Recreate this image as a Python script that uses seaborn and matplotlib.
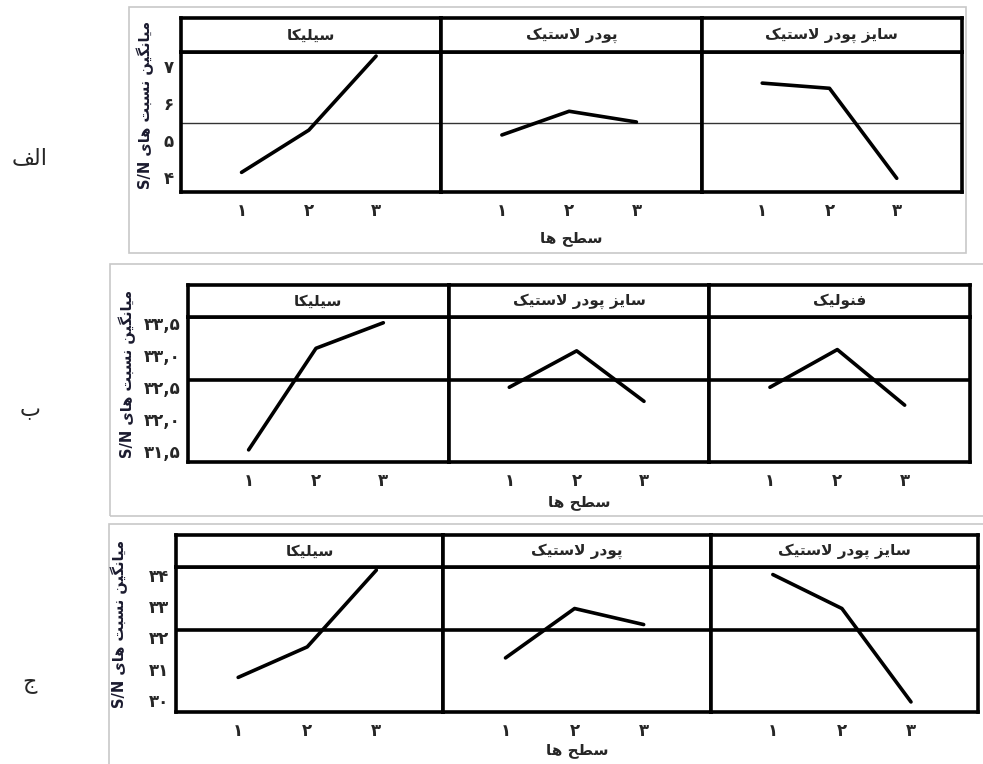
import re
import matplotlib
matplotlib.use("Agg")
import matplotlib.pyplot as plt
import pandas as pd
import seaborn as sns
from matplotlib.patches import Rectangle

# Data
levels = [1, 2, 3]
level_labels = ["۱", "۲", "۳"]

factors_a = ["سیلیکا", "پودر لاستیک", "سایز پودر لاستیک"]
sn_a = [[4.13, 5.27, 7.27], [5.14, 5.78, 5.49], [6.54, 6.40, 3.97]]
mean_a = 5.45
yticks_a = [4, 5, 6, 7]
yticklabels_a = ["۴", "۵", "۶", "۷"]

factors_b = ["سیلیکا", "سایز پودر لاستیک", "فنولیک"]
sn_b = [[31.52, 33.11, 33.51], [32.50, 33.07, 32.28], [32.50, 33.09, 32.22]]
mean_b = 32.62
yticks_b = [31.5, 32.0, 32.5, 33.0, 33.5]
yticklabels_b = ["۳۱,۵", "۳۲,۰", "۳۲,۵", "۳۳,۰", "۳۳,۵"]

factors_c = ["سیلیکا", "پودر لاستیک", "سایز پودر لاستیک"]
sn_c = [[30.73, 31.70, 34.14], [31.35, 32.92, 32.41], [34.00, 32.92, 29.95]]
mean_c = 32.23
yticks_c = [30, 31, 32, 33, 34]
yticklabels_c = ["۳۰", "۳۱", "۳۲", "۳۳", "۳۴"]

panel_letters = ["الف", "ب", "ج"]
ylabel = "میانگین نسبت های S/N"
xlabel = "سطح ها"

# --- minimal arabic/persian shaping (matplotlib has no text shaping) ---
# (isolated, final, initial, medial)
FORMS = {
    "ا": ("\uFE8D", "\uFE8E", None, None),
    "د": ("\uFEA9", "\uFEAA", None, None),
    "ر": ("\uFEAD", "\uFEAE", None, None),
    "ز": ("\uFEAF", "\uFEB0", None, None),
    "و": ("\uFEED", "\uFEEE", None, None),
    "ب": ("\uFE8F", "\uFE90", "\uFE91", "\uFE92"),
    "ت": ("\uFE95", "\uFE96", "\uFE97", "\uFE98"),
    "ج": ("\uFE9D", "\uFE9E", "\uFE9F", "\uFEA0"),
    "ح": ("\uFEA1", "\uFEA2", "\uFEA3", "\uFEA4"),
    "س": ("\uFEB1", "\uFEB2", "\uFEB3", "\uFEB4"),
    "ط": ("\uFEC1", "\uFEC2", "\uFEC3", "\uFEC4"),
    "ف": ("\uFED1", "\uFED2", "\uFED3", "\uFED4"),
    "ل": ("\uFEDD", "\uFEDE", "\uFEDF", "\uFEE0"),
    "م": ("\uFEE1", "\uFEE2", "\uFEE3", "\uFEE4"),
    "ن": ("\uFEE5", "\uFEE6", "\uFEE7", "\uFEE8"),
    "ه": ("\uFEE9", "\uFEEA", "\uFEEB", "\uFEEC"),
    "ی": ("\uFBFC", "\uFBFD", "\uFBFE", "\uFBFF"),
    "ک": ("\uFB8E", "\uFB8F", "\uFB90", "\uFB91"),
    "گ": ("\uFB92", "\uFB93", "\uFB94", "\uFB95"),
    "پ": ("\uFB56", "\uFB57", "\uFB58", "\uFB59"),
}


def shape(text):
    out = []
    i = 0
    n = len(text)
    while i < n:
        c = text[i]
        if c not in FORMS:
            out.append(c)
            i += 1
            continue
        prev = text[i - 1] if i > 0 else ""
        prev_joins = prev in FORMS and FORMS[prev][2] is not None
        if c == "ل" and i + 1 < n and text[i + 1] == "ا":
            out.append("\uFEFC" if prev_joins else "\uFEFB")
            i += 2
            continue
        nxt = text[i + 1] if i + 1 < n else ""
        next_joins = FORMS[c][2] is not None and nxt in FORMS
        iso, fin, ini, med = FORMS[c]
        if prev_joins and next_joins:
            out.append(med)
        elif prev_joins:
            out.append(fin)
        elif next_joins:
            out.append(ini)
        else:
            out.append(iso)
        i += 1
    return "".join(out)


def fa(text):
    runs = re.split(r"([A-Za-z0-9/,.\u06F0-\u06F9]+)", shape(text))
    runs = [r if re.fullmatch(r"[A-Za-z0-9/,.\u06F0-\u06F9]+", r) else r[::-1]
            for r in runs if r]
    return "".join(runs[::-1])


sns.set_style("white")
plt.rcParams["font.family"] = ["DejaVu Sans"]

W, H = 983, 764
fig = plt.figure(figsize=(W / 100, H / 100), dpi=100)


def px_axes(x0, y0, x1, y1):
    return fig.add_axes([x0 / W, 1 - y1 / H, (x1 - x0) / W, (y1 - y0) / H])


def draw_panel(factors, values, mean, yticks, yticklabels, ylim, left, right,
               strip_top, strip_bot, plot_bot, ref_lw, ref_color, frame,
               ylabel_x, xlabel_y, letter, letter_y):
    # light frame round the panel
    fx0, fy0, fx1, fy1 = frame
    fig.patches.append(Rectangle((fx0 / W, 1 - fy1 / H), (fx1 - fx0) / W, (fy1 - fy0) / H,
                                 transform=fig.transFigure, fill=False,
                                 edgecolor="#c8c8c8", lw=1.2))
    width = (right - left) / 3
    for k, (name, vals) in enumerate(zip(factors, values)):
        x0 = left + k * width
        ax = px_axes(x0, strip_bot, x0 + width, plot_bot)
        df = pd.DataFrame({"level": levels, "sn": vals})
        sns.lineplot(data=df, x="level", y="sn", ax=ax, color="black", lw=2.6)
        ax.axhline(mean, color=ref_color, lw=ref_lw, zorder=1)
        ax.set_xlim(0.1, 3.97)
        ax.set_ylim(*ylim)
        ax.set_xticks(levels)
        ax.set_xticklabels(level_labels, fontweight="bold", fontsize=12)
        ax.set_yticks(yticks)
        if k == 0:
            ax.set_yticklabels(yticklabels, fontweight="bold", fontsize=12)
        else:
            ax.set_yticklabels([])
        ax.tick_params(axis="both", direction="in", length=4, width=3, pad=7)
        ax.tick_params(axis="y", length=0 if k else 4, pad=5)
        ax.set_xlabel("")
        ax.set_ylabel("")
        for s in ax.spines.values():
            s.set_linewidth(2.6)
            s.set_color("black")
        # strip
        sx = px_axes(x0, strip_top, x0 + width, strip_bot)
        sx.set_xticks([])
        sx.set_yticks([])
        for s in sx.spines.values():
            s.set_linewidth(2.6)
            s.set_color("black")
        sx.text(0.5, 0.5, fa(name), ha="center", va="center",
                fontweight="bold", fontsize=11, transform=sx.transAxes)
    mid_y = (strip_top + plot_bot) / 2
    fig.text(ylabel_x / W, 1 - mid_y / H, fa(ylabel), rotation=90, ha="center",
             va="center", fontweight="bold", fontsize=10.5, color="#1b1b2f")
    fig.text((left + right) / 2 / W, 1 - xlabel_y / H, fa(xlabel), ha="center",
             va="center", fontweight="bold", fontsize=11)
    fig.text(30 / W, 1 - letter_y / H, fa(letter), ha="center", va="center",
             fontsize=16)


draw_panel(factors_a, sn_a, mean_a, yticks_a, yticklabels_a, (3.6, 7.38),
           181, 962, 18, 52, 192, 1.0, "#333333", (129, 7, 966, 253),
           145, 238, panel_letters[0], 158)
draw_panel(factors_b, sn_b, mean_b, yticks_b, yticklabels_b, (31.33, 33.60),
           188, 970, 285, 317, 462, 2.6, "black", (110, 264, 990, 516),
           127, 502, panel_letters[1], 410)
draw_panel(factors_c, sn_c, mean_c, yticks_c, yticklabels_c, (29.63, 34.24),
           176, 978, 535, 567, 712, 2.6, "black", (109, 524, 990, 770),
           119, 750, panel_letters[2], 683)

fig.savefig("out.png", dpi=100)
